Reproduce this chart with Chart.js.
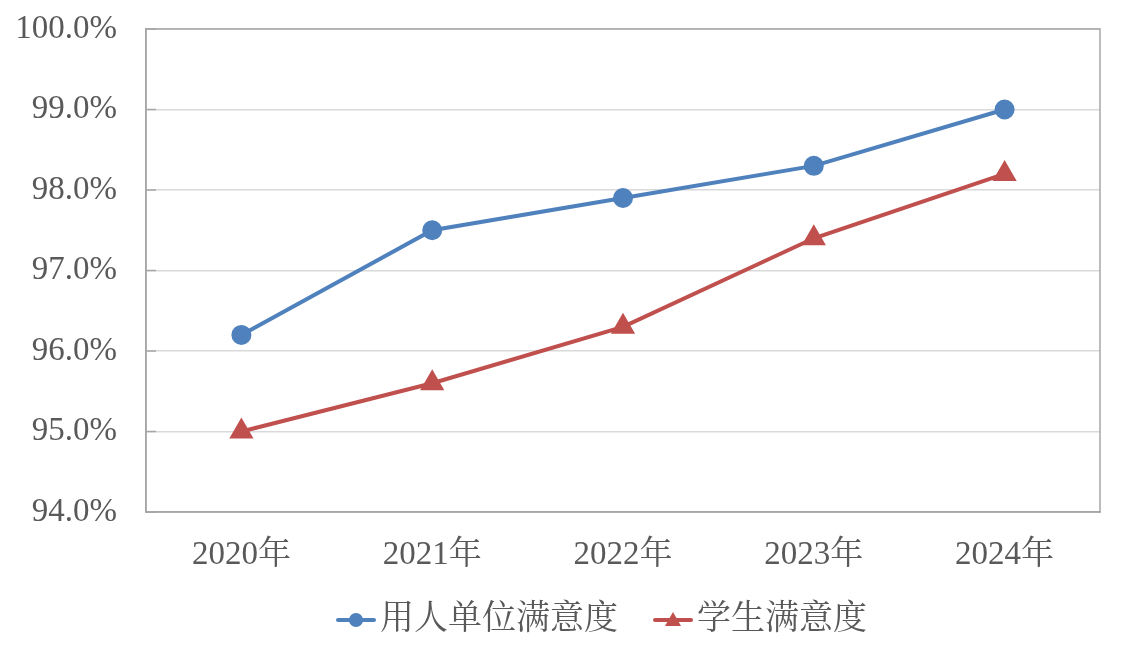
<!DOCTYPE html>
<html lang="zh">
<head>
    <meta charset="UTF-8">
    <title>满意度</title>
    <script src="https://cdn.jsdelivr.net/npm/chart.js"></script>
    <style>
        body { margin: 0; background: #fff; }
        canvas { display: block; }
    </style>
</head>
<body>
    <canvas id="chart" width="1123" height="650"></canvas>

    <script>
        // data
        const years = ['2020年', '2021年', '2022年', '2023年', '2024年'];
        const employerSat = [96.2, 97.5, 97.9, 98.3, 99.0];
        const studentSat = [95.0, 95.6, 96.3, 97.4, 98.2];
        const yTicks = [94, 95, 96, 97, 98, 99, 100];

        const BLUE = '#4f81bd';
        const RED = '#c0504d';
        const AXIS = '#a6a6a6';
        const TEXT = '#595959';
        const FONT = '"Liberation Serif", "Noto Serif CJK SC", "Noto Sans CJK SC", serif';

        // legend swatch: a short line with the marker in the middle
        function swatch(color, shape) {
            const c = document.createElement('canvas');
            c.width = 40; c.height = 20;
            const g = c.getContext('2d');
            g.strokeStyle = color;
            g.lineWidth = 4;
            g.lineCap = 'round';
            g.beginPath(); g.moveTo(2, 10); g.lineTo(38, 10); g.stroke();
            g.fillStyle = color;
            g.beginPath();
            if (shape === 'circle') {
                g.arc(20, 10, 7, 0, Math.PI * 2);
            } else {
                g.moveTo(20, 2); g.lineTo(28, 16); g.lineTo(12, 16); g.closePath();
            }
            g.fill();
            return c;
        }
        const swBlue = swatch(BLUE, 'circle');
        const swRed = swatch(RED, 'triangle');

        // frame around the plot area + short inner tick marks on the y axis
        const frame = {
            id: 'frame',
            afterLayout(chart) {
                // Excel centres the legend a bit right of the canvas middle
                chart.legend.left += 58;
                chart.legend.right += 58;
            },
            afterDraw(chart) {
                const a = chart.chartArea, ctx = chart.ctx, y = chart.scales.y;
                ctx.save();
                ctx.strokeStyle = AXIS;
                ctx.lineWidth = 1.5;
                ctx.strokeRect(a.left, a.top, a.right - a.left, a.bottom - a.top);
                ctx.beginPath();
                yTicks.forEach(v => {
                    const py = y.getPixelForValue(v);
                    ctx.moveTo(a.left, py);
                    ctx.lineTo(a.left + 10, py);
                });
                ctx.stroke();
                ctx.restore();
            }
        };

        const ctx = document.getElementById('chart').getContext('2d');
        new Chart(ctx, {
            type: 'line',
            data: {
                labels: years,
                datasets: [{
                    label: '用人单位满意度    ',
                    data: employerSat,
                    borderColor: BLUE,
                    backgroundColor: BLUE,
                    borderWidth: 4,
                    pointStyle: 'circle',
                    pointRadius: 8,
                    pointHoverRadius: 8,
                    tension: 0
                }, {
                    label: '学生满意度',
                    data: studentSat,
                    borderColor: RED,
                    backgroundColor: RED,
                    borderWidth: 4,
                    pointStyle: 'triangle',
                    pointRadius: 10,
                    pointHoverRadius: 10,
                    tension: 0
                }]
            },
            options: {
                responsive: false,
                animation: false,
                layout: { padding: { top: 29, right: 23, left: 0, bottom: 3 } },
                scales: {
                    x: {
                        offset: true,
                        grid: { display: false, drawTicks: false },
                        border: { color: AXIS, width: 1.5 },
                        ticks: {
                            padding: 24,
                            color: TEXT,
                            font: { family: FONT, size: 33 }
                        },
                        afterFit(s) { s.height = 77; }
                    },
                    y: {
                        min: 94,
                        max: 100,
                        afterBuildTicks(s) { s.ticks = yTicks.map(v => ({ value: v })); },
                        grid: { color: '#d9d9d9', lineWidth: 1.5, drawTicks: false },
                        border: { color: AXIS, width: 1.5 },
                        ticks: {
                            padding: 29,
                            color: TEXT,
                            font: { family: FONT, size: 33 },
                            callback: v => v.toFixed(1) + '%'
                        },
                        afterFit(s) {
                            s.width = 146;
                            s.paddingTop = 0;
                            s.paddingBottom = 0;
                        }
                    }
                },
                plugins: {
                    legend: {
                        position: 'bottom',
                        labels: {
                            usePointStyle: true,
                            pointStyleWidth: 14,
                            padding: 14,
                            color: TEXT,
                            font: { family: FONT, size: 34 },
                            generateLabels(chart) {
                                return chart.data.datasets.map((d, i) => ({
                                    text: d.label,
                                    pointStyle: i === 0 ? swBlue : swRed,
                                    fillStyle: d.borderColor,
                                    strokeStyle: d.borderColor,
                                    fontColor: TEXT,
                                    lineWidth: 0,
                                    datasetIndex: i
                                }));
                            }
                        }
                    },
                    tooltip: { enabled: false }
                }
            },
            plugins: [frame]
        });
    </script>
</body>
</html>
